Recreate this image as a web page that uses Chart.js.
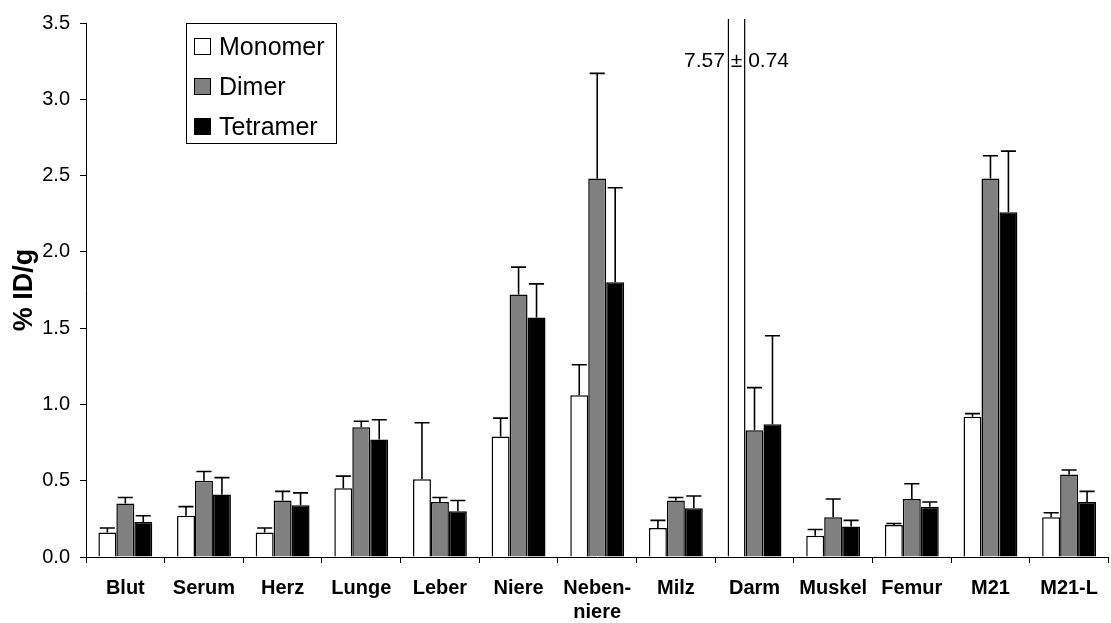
<!DOCTYPE html>
<html>
<head>
<meta charset="utf-8">
<script src="https://cdn.jsdelivr.net/npm/chart.js@4.4.1/dist/chart.umd.min.js"></script>
<style>
  html, body { margin: 0; padding: 0; background: #fff; }
  #wrap { position: relative; width: 1111px; height: 623px; }
</style>
</head>
<body>
<div id="wrap"><canvas id="chart"></canvas></div>
<script>
// --- data (% ID/g, mean and SD) ---
const categories = ['Blut', 'Serum', 'Herz', 'Lunge', 'Leber', 'Niere', ['Neben-', 'niere'], 'Milz', 'Darm', 'Muskel', 'Femur', 'M21', 'M21-L'];

const monomer    = [0.16, 0.27, 0.16, 0.45, 0.51, 0.79, 1.06, 0.19, 7.57, 0.14, 0.21, 0.92, 0.26];
const monomerSd  = [0.03, 0.06, 0.03, 0.08, 0.37, 0.12, 0.20, 0.05, 0.74, 0.04, 0.01, 0.02, 0.03];
const dimer      = [0.35, 0.50, 0.37, 0.85, 0.36, 1.72, 2.48, 0.37, 0.83, 0.26, 0.38, 2.48, 0.54];
const dimerSd    = [0.04, 0.06, 0.06, 0.04, 0.03, 0.18, 0.69, 0.02, 0.28, 0.12, 0.10, 0.15, 0.03];
const tetramer   = [0.23, 0.41, 0.34, 0.77, 0.30, 1.57, 1.80, 0.32, 0.87, 0.20, 0.33, 2.26, 0.36];
const tetramerSd = [0.04, 0.11, 0.08, 0.13, 0.07, 0.22, 0.62, 0.08, 0.58, 0.04, 0.03, 0.40, 0.07];

const yMin = 0, yMax = 3.5, yStep = 0.5;
const offScaleIndex = 8; // Darm monomer goes far above the axis

const FONT = "'Liberation Sans', Arial, sans-serif";

// error bars (upper only, with cap)
const errorBars = {
    id: 'errorBars',
    afterDatasetsDraw(chart) {
        const ctx = chart.ctx;
        const y = chart.scales.y;
        const area = chart.chartArea;
        ctx.save();
        ctx.beginPath();
        ctx.rect(area.left, area.top - 4, area.right - area.left, area.bottom - area.top + 4);
        ctx.clip();
        ctx.strokeStyle = '#000';
        ctx.lineWidth = 1.6;
        chart.data.datasets.forEach((ds, i) => {
            const meta = chart.getDatasetMeta(i);
            meta.data.forEach((bar, j) => {
                const top = y.getPixelForValue(ds.data[j] + ds.sd[j]);
                const half = bar.width * 0.42;
                ctx.beginPath();
                ctx.moveTo(bar.x, bar.y);
                ctx.lineTo(bar.x, top);
                ctx.moveTo(bar.x - half, top);
                ctx.lineTo(bar.x + half, top);
                ctx.stroke();
            });
        });
        ctx.restore();
    }
};

// legend box in the upper left of the plot + off-scale value note
const boxLegend = {
    id: 'boxLegend',
    afterDraw(chart) {
        const ctx = chart.ctx;
        const area = chart.chartArea;
        const x0 = 186, y0 = area.top, w = 150, h = 120;
        ctx.save();
        ctx.fillStyle = '#fff';
        ctx.fillRect(x0, y0, w, h);
        ctx.strokeStyle = '#000';
        ctx.lineWidth = 1;
        ctx.strokeRect(x0 + 0.5, y0 + 0.5, w, h);
        ctx.font = '25px ' + FONT;
        ctx.textBaseline = 'alphabetic';
        chart.data.datasets.forEach((ds, i) => {
            const cy = y0 + 23 + i * 40;
            ctx.fillStyle = ds.backgroundColor;
            ctx.fillRect(194, cy - 8, 17, 17);
            ctx.strokeRect(194.5, cy - 7.5, 16, 16);
            ctx.fillStyle = '#000';
            ctx.fillText(ds.label, 219, cy + 9);
        });

        // note for the clipped Darm monomer bar
        const bar = chart.getDatasetMeta(0).data[offScaleIndex];
        ctx.font = '21px ' + FONT;
        ctx.textAlign = 'center';
        ctx.fillText(monomer[offScaleIndex].toFixed(2) + ' \u00b1 ' + monomerSd[offScaleIndex].toFixed(2),
            bar.x, chart.scales.y.getPixelForValue(3.21));
        ctx.restore();
    }
};

new Chart(document.getElementById('chart'), {
    type: 'bar',
    data: {
        labels: categories,
        datasets: [
            { label: 'Monomer', data: monomer, sd: monomerSd, backgroundColor: '#ffffff' },
            { label: 'Dimer', data: dimer, sd: dimerSd, backgroundColor: '#808080' },
            { label: 'Tetramer', data: tetramer, sd: tetramerSd, backgroundColor: '#000000' }
        ].map(d => Object.assign(d, {
            borderColor: '#000',
            borderWidth: 1.5,
            categoryPercentage: 0.685,
            barPercentage: 1.0,
            clip: { left: 0, top: 4, right: 0, bottom: 0 }
        }))
    },
    options: {
        responsive: true,
        maintainAspectRatio: false,
        animation: false,
        layout: { padding: { top: 23, left: 0, right: 0, bottom: 0 } },
        plugins: {
            legend: { display: false },
            tooltip: { enabled: false }
        },
        scales: {
            x: {
                grid: { display: true, drawOnChartArea: false, drawTicks: true, tickLength: 6, color: '#000', offset: true },
                border: { display: true, color: '#000', width: 1 },
                ticks: { color: '#000', font: { family: FONT, size: 20, weight: 'bold' }, padding: 13, maxRotation: 0, autoSkip: false },
                afterFit: s => { s.height = 66; }
            },
            y: {
                min: yMin,
                max: yMax,
                grid: { display: true, drawOnChartArea: false, drawTicks: true, tickLength: 6, color: '#000' },
                border: { display: true, color: '#000', width: 1 },
                ticks: { stepSize: yStep, color: '#000', font: { family: FONT, size: 20 }, padding: 10,
                    callback: v => v.toFixed(1) },
                title: { display: true, text: '% ID/g', color: '#000', font: { family: FONT, size: 27, weight: 'bold' }, padding: { top: 8, bottom: 0 } },
                afterFit: s => { s.width = 86; }
            }
        }
    },
    plugins: [errorBars, boxLegend]
});
</script>
</body>
</html>
